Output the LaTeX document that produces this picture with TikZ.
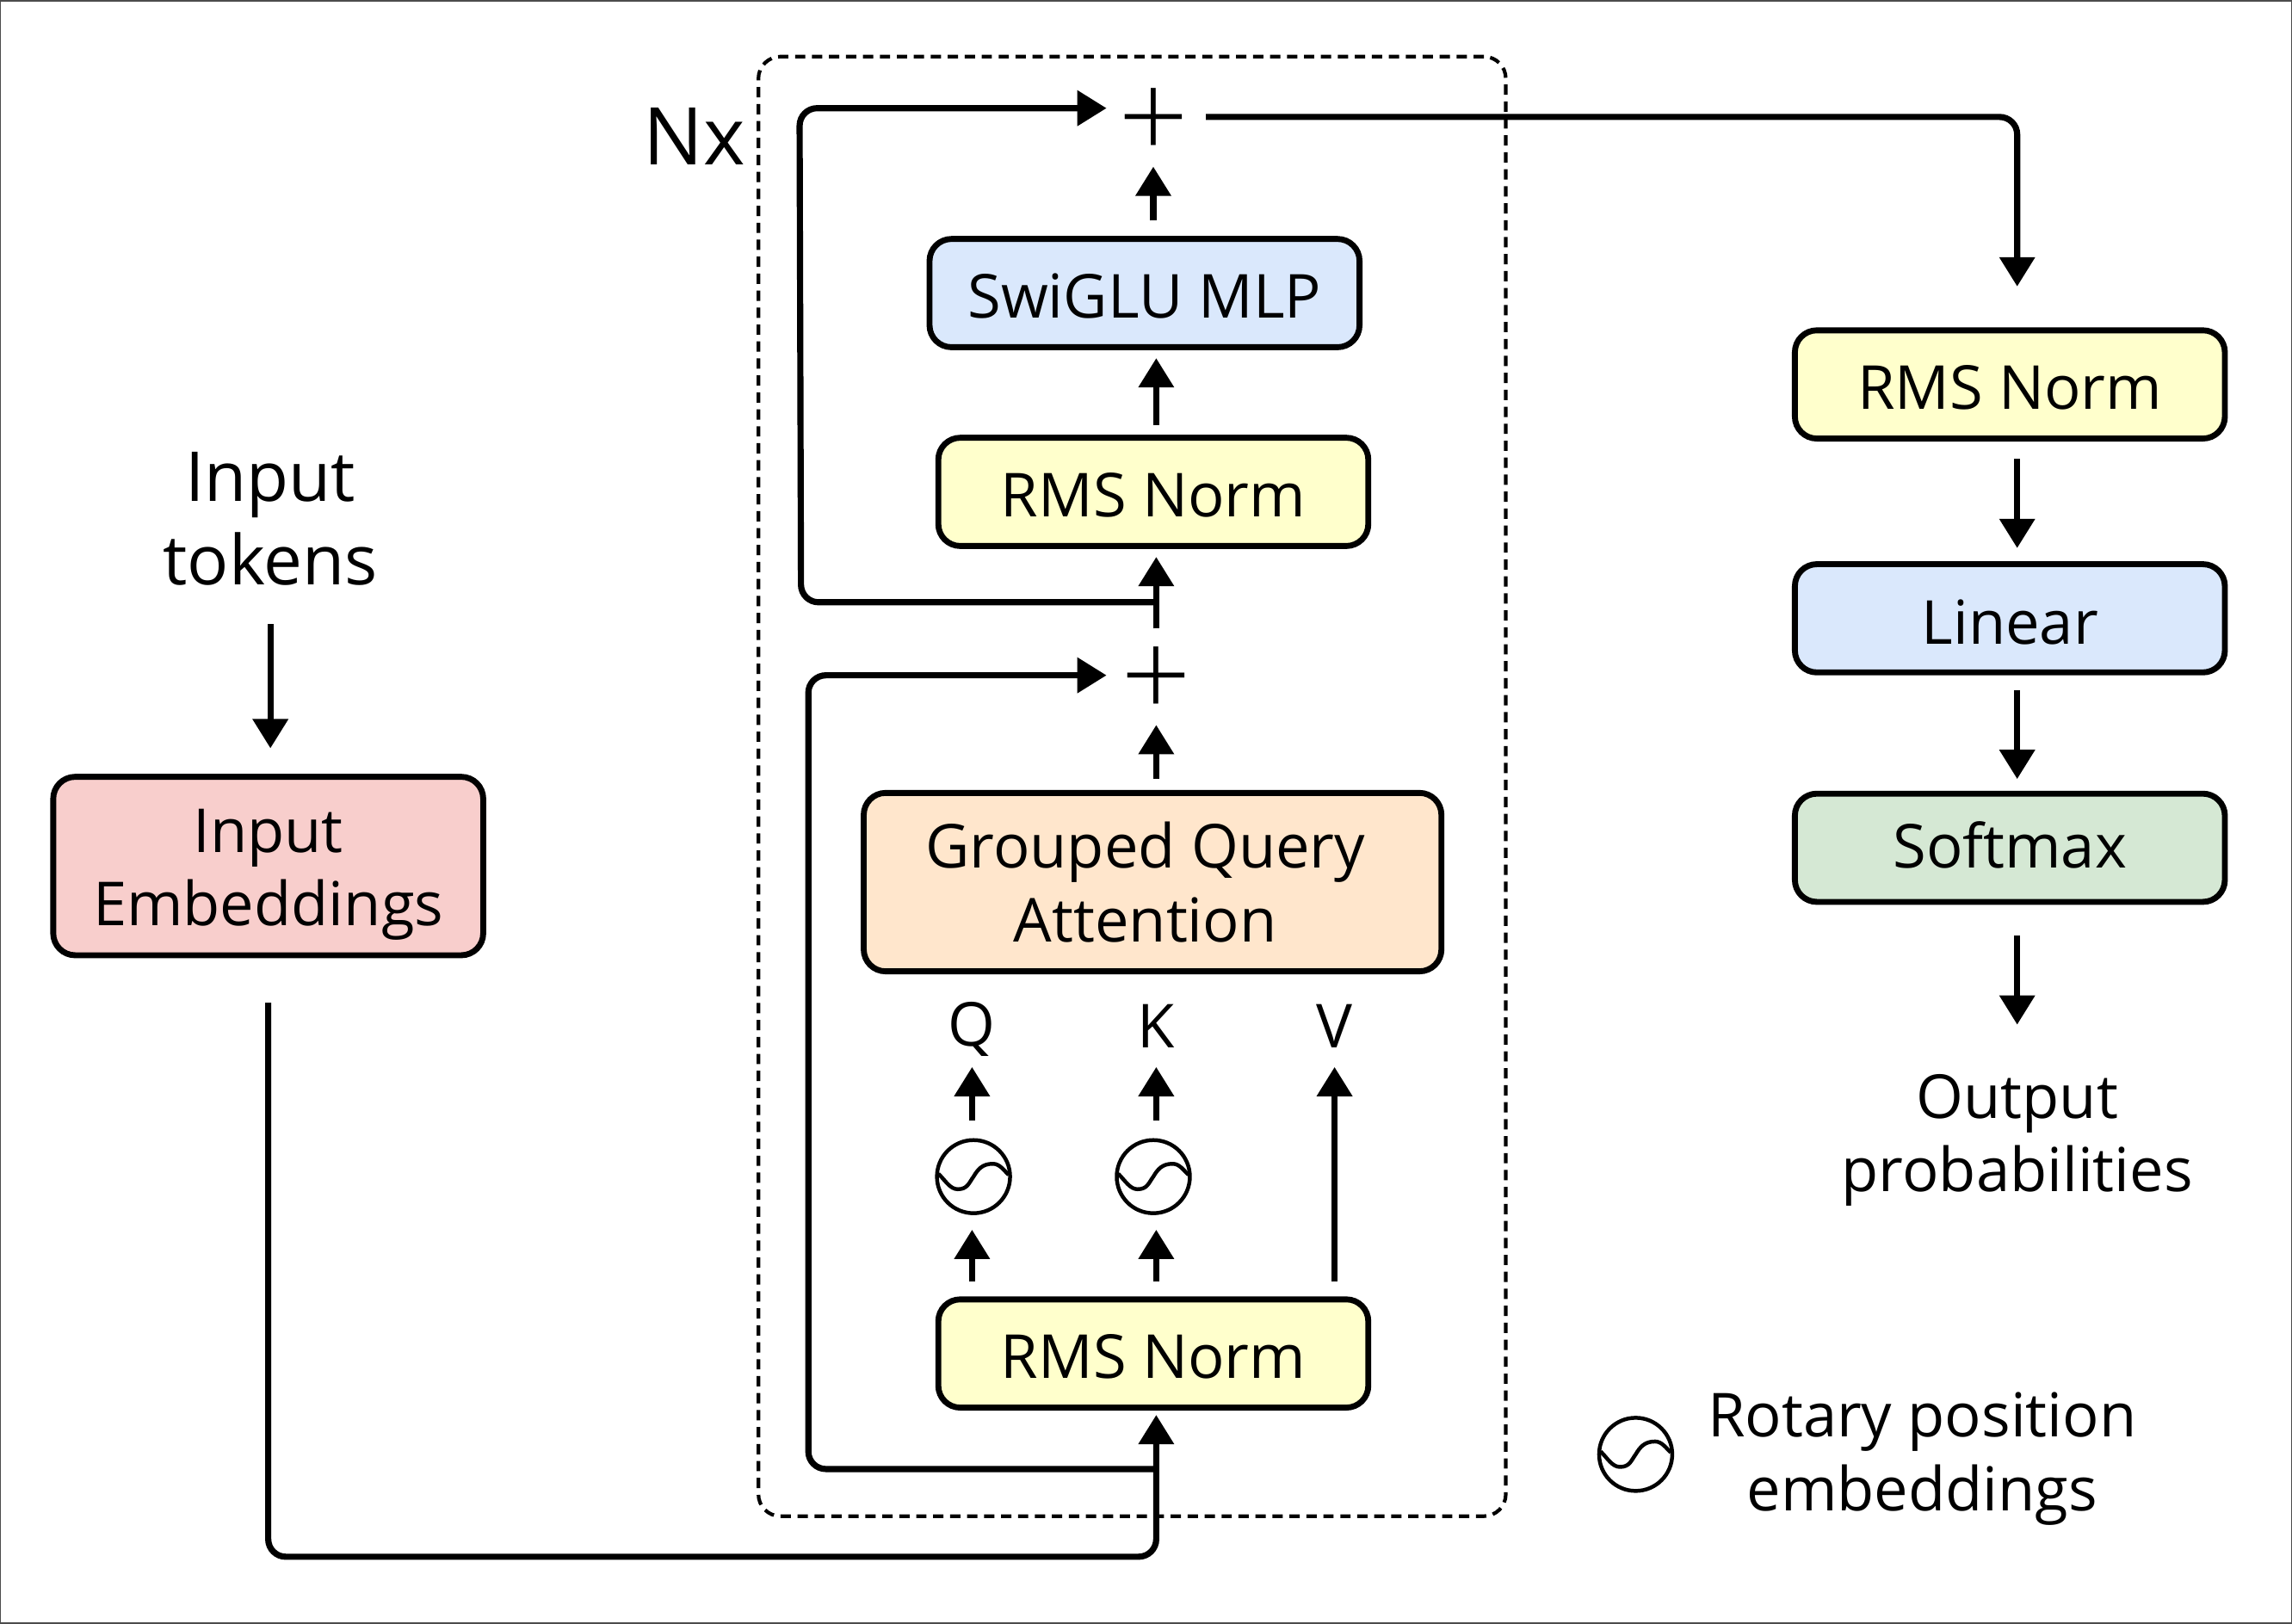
\documentclass[tikz,border=0pt]{standalone}
\usepackage{fontspec}
\setmainfont{Open Sans}
\newfontfamily\plusfont{Open Sans Light}
\usetikzlibrary{arrows.meta}
\tikzset{
  block/.style={draw=black,line width=1.15pt,rounded corners=0.15cm,minimum width=2.94cm,minimum height=0.74cm,inner sep=0pt,align=center,font=\fontsize{11.8}{14.3}\selectfont},
  flow/.style={-{Triangle[length=5.7pt,width=6.7pt]},black,line width=1.2pt},
  label/.style={inner sep=0pt,align=center,font=\fontsize{11.8}{14.3}\selectfont},
  bigtext/.style={inner sep=0pt,align=center,font=\fontsize{13.4}{16.2}\selectfont},
  rotary/.style={draw=black,circle,line width=0.75pt,minimum size=0.5cm,inner sep=0pt,
    path picture={\draw [line width=0.75pt,shift={(path picture bounding box.center)}] (-24,-2) .. controls (-19,3) and (-16,8.6) .. (-10.7,8.6) .. controls (-4,8.6) and (-3,4) .. (0,0) .. controls (3,-5) and (6,-8.8) .. (13.3,-8.8) .. controls (18,-8.8) and (21,-4) .. (24,-1.3);}},
  sumnode/.style={inner sep=0pt,font=\plusfont\fontsize{24}{24}\selectfont},
}
\definecolor{normyellow}{HTML}{FFFFCC}
\definecolor{mlpblue}{HTML}{DAE8FC}
\definecolor{attnorange}{HTML}{FFE6CC}
\definecolor{embedred}{HTML}{F8CECC}
\definecolor{softgreen}{HTML}{D5E8D4}
\begin{document}
\begin{tikzpicture}[x=0.01cm,y=-0.01cm]
  \useasboundingbox (0,0) rectangle (1568,1110.5);
  \draw [black!70,line width=0.5pt] (0,0) rectangle (1568,1110.5);
  \node [draw=black,line width=0.7pt,dash pattern=on 2pt off 1.3pt,rounded corners=0.15cm,minimum width=5.11cm,minimum height=9.98cm] (repeatbox) at (774.5,538) {};
  \node [bigtext] (tokens) at (185,355) {Input\\tokens};
  \node [block,fill=embedred,minimum height=1.22cm,text height=26.1pt] (embed) at (183.5,592.5) {Input\\Embeddings};
  \node [bigtext,font=\fontsize{15.5}{18}\selectfont] (nx) at (475,93) {Nx};
  \node [sumnode] (plustop) at (789,85) {+};
  \node [block,fill=mlpblue,text height=9.9pt] (swiglu) at (783,200.5) {SwiGLU MLP};
  \node [block,fill=normyellow,text height=9.9pt] (normmid) at (789,336.5) {RMS Norm};
  \node [sumnode] (plusbot) at (791,467) {+};
  \node [block,fill=attnorange,minimum width=3.95cm,minimum height=1.22cm] (attn) at (788.5,603.5) {Grouped Query\hspace*{2.8pt}\\Attention\hspace*{2.8pt}};
  \node [label] (q) at (665,704) {Q};
  \node [label] (k) at (791,702) {K};
  \node [label] (v) at (913,702) {V};
  \node [rotary] (rotq) at (666,805) {};
  \node [rotary] (rotk) at (789,805) {};
  \node [block,fill=normyellow,text height=9.9pt] (normlow) at (789,926) {RMS Norm};
  \node [block,fill=normyellow,text height=9.9pt] (normout) at (1375,263) {RMS Norm};
  \node [block,fill=mlpblue,text height=10.2pt] (linear) at (1375,423) {Linear};
  \node [block,fill=softgreen,text height=8pt] (softmax) at (1375,580) {Softmax};
  \node [label] (output) at (1380,780) {Output\\probabilities};
  \node [rotary] (rotlegend) at (1119,995) {};
  \node [label] (legend) at (1315,998) {Rotary position\\embeddings};
  \draw [flow] ([shift={(0,72)}]tokens.center) -- ([shift={(1.5,-17.5)}]embed.north);
  \draw [flow,rounded corners=0.12cm] ([shift={(0,30.5)}]embed.south) -- ([shift={(0,409.5)}]embed.south) -- ([shift={(2,100)}]normlow.south) -- ([shift={(2,3)}]normlow.south);
  \draw [flow,rounded corners=0.12cm] ([shift={(2,40)}]normlow.south) -- ([shift={(-236,40)}]normlow.south) -- ([shift={(-238,-5)}]plusbot.center) -- ([shift={(-34,-5)}]plusbot.center);
  \draw [flow] ([shift={(-124,-10)}]normlow.north) -- ([shift={(-1,10)}]rotq.south);
  \draw [flow] ([shift={(-1,-12)}]rotq.north) -- ([shift={(0,26)}]q.center);
  \draw [flow] ([shift={(2,-10)}]normlow.north) -- ([shift={(2,10)}]rotk.south);
  \draw [flow] ([shift={(2,-12)}]rotk.north) -- ([shift={(0,28)}]k.center);
  \draw [flow] ([shift={(124,-10)}]normlow.north) -- ([shift={(0,28)}]v.center);
  \draw [flow] ([shift={(2.5,-7.5)}]attn.north) -- ([shift={(0,29)}]plusbot.center);
  \draw [flow] ([shift={(0,-37)}]plusbot.center) -- ([shift={(2,5.5)}]normmid.south);
  \draw [flow,rounded corners=0.12cm] ([shift={(2,36.5)}]normmid.south) -- ([shift={(-241,36.5)}]normmid.south) -- ([shift={(-242,-11)}]plustop.center) -- ([shift={(-32,-11)}]plustop.center);
  \draw [flow] ([shift={(2,-6.5)}]normmid.north) -- ([shift={(8,5.5)}]swiglu.south);
  \draw [flow] ([shift={(6,-10.5)}]swiglu.north) -- ([shift={(0,29)}]plustop.center);
  \draw [flow,rounded corners=0.12cm] ([shift={(36,-5)}]plustop.center) -- ([shift={(591,-5)}]plustop.center) -- ([shift={(5,-28)}]normout.north);
  \draw [flow] ([shift={(5,12)}]normout.south) -- ([shift={(5,-9)}]linear.north);
  \draw [flow] ([shift={(5,10)}]linear.south) -- ([shift={(5,-8)}]softmax.north);
  \draw [flow] ([shift={(5,21)}]softmax.south) -- ([shift={(0,-79)}]output.center);
\end{tikzpicture}
\end{document}
